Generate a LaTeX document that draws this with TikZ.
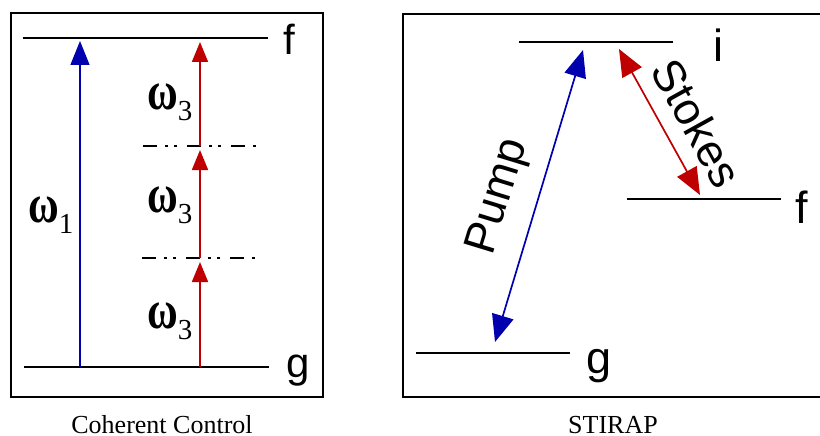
\documentclass[tikz,border=0pt]{standalone}
\usepackage{fontspec}
\setmainfont{Liberation Serif}
\newfontfamily\arialfont{Liberation Sans}
\usetikzlibrary{arrows.meta, positioning}
\definecolor{azul}{RGB}{0,0,175}
\definecolor{rojo}{RGB}{190,0,0}
\newcommand{\omegalabel}[1]{\scalebox{1}[1.3]{\fontsize{42}{42}\selectfont\bfseries ω}\raisebox{-11pt}{\fontsize{29}{29}\selectfont #1}}

\begin{document}
\begin{tikzpicture}[
  x=1pt, y=-1pt,
  level/.style={line width=2pt},
  virtual/.style={line width=1.5pt, dash pattern=on 14pt off 8pt on 3pt off 6pt on 3pt off 10pt},
  frame/.style={line width=2.4pt},
  lbl/.style={font=\arialfont\fontsize{42}{42}\selectfont, inner sep=0pt, anchor=base},
  biglbl/.style={font=\arialfont\fontsize{45}{45}\selectfont, inner sep=0pt},
  wl/.style={inner sep=0pt, anchor=base west},
  caption/.style={font=\fontsize{26}{26}\selectfont, inner sep=0pt, text depth=0pt, anchor=base},
  bluearr/.style={azul, line width=1.5pt, -{Triangle[length=24pt,width=19pt]}, shorten >=3pt},
  redarr/.style={rojo, line width=1.7pt, -{Triangle[length=20pt,width=16pt]}, shorten >=4pt},
  dblarr/.style={line width=1.7pt, {Triangle[length=27pt,width=22pt]}-{Triangle[length=27pt,width=22pt]}}
]
  \path[use as bounding box, clip] (0,0) rectangle (820,436);

  % coherent control
  \draw[frame] (11,13) rectangle (323,397);
  \draw[level] (23,38) -- (268,38);
  \draw[level] (24,367) -- (269,367);
  \draw[virtual] (143,146) -- (260,146);
  \draw[virtual] (142,258) -- (258,258);
  \node[lbl] (ccf) at (289,55) {f};
  \node[lbl] (ccg) at (298,377) {g};

  \coordinate (blueLo) at (80,367);
  \coordinate (blueHi) at (80,38);
  \coordinate (redG) at (200,367);
  \coordinate (redV1) at (200,258);
  \coordinate (redV2) at (200,146);
  \coordinate (redF) at (200,38);

  \draw[bluearr] (blueLo) -- (blueHi);
  \draw[redarr] (redG) -- (redV1);
  \draw[redarr] (redV1) -- (redV2);
  \draw[redarr] (redV2) -- (redF);

  \node[wl] (w1) at (28,222) {\omegalabel{1}};
  \node[wl] (w3a) at (147,328) {\omegalabel{3}};
  \node[wl] (w3b) at (147,212) {\omegalabel{3}};
  \node[wl] (w3c) at (147,110) {\omegalabel{3}};

  \node[caption] (cccap) at (162,433) {Coherent Control};

  % stirap
  \draw[frame] (403,14) rectangle (840,397);
  \draw[level] (519,42) -- (673,42);
  \draw[level] (627,199) -- (781,199);
  \draw[level] (416,353) -- (570,353);
  \node[lbl, font=\arialfont\fontsize{45}{45}\selectfont] (sti) at (718,62) {i};
  \node[lbl, font=\arialfont\fontsize{45}{45}\selectfont] (stf) at (802,223) {f};
  \node[lbl, font=\arialfont\fontsize{45}{45}\selectfont] (stg) at (599,373) {g};

  \coordinate (pumpLo) at (495,342);
  \coordinate (pumpHi) at (583,50);
  \coordinate (stokesHi) at (619,49);
  \coordinate (stokesLo) at (700,195);

  \draw[dblarr, azul] (pumpLo) -- (pumpHi);
  \draw[dblarr, rojo] (stokesHi) -- (stokesLo);

  \node[biglbl, rotate=73] (pump) at (499,197) {Pump};
  \node[biglbl, rotate=-61] (stokes) at (697,123) {Stokes};

  \node[caption] (stcap) at (613,433) {STIRAP};
\end{tikzpicture}
\end{document}
